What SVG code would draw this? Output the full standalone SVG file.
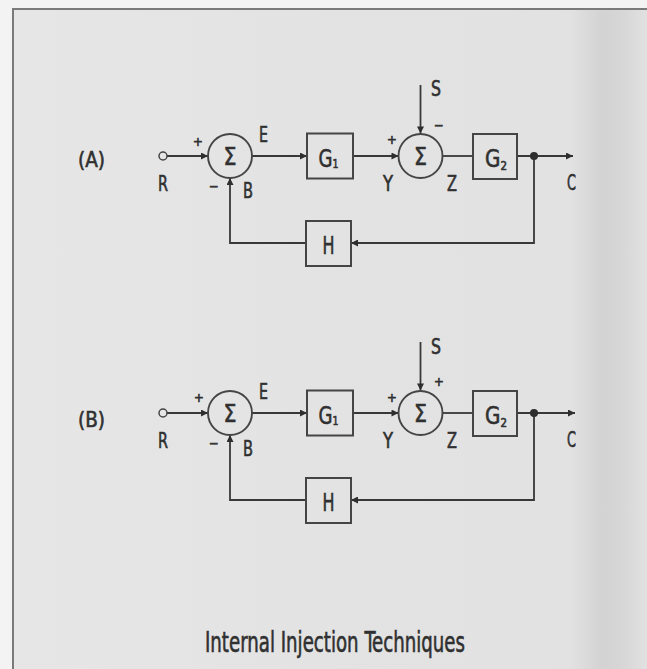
<svg xmlns="http://www.w3.org/2000/svg" width="647" height="669" viewBox="0 0 647 669">
  <defs>
    <linearGradient id="paper" x1="0" y1="0" x2="1" y2="0">
      <stop offset="0" stop-color="#e6e6e6"/>
      <stop offset="0.5" stop-color="#e3e3e3"/>
      <stop offset="0.87" stop-color="#e2e2e2"/>
      <stop offset="0.92" stop-color="#d3d3d3"/>
      <stop offset="0.95" stop-color="#d6d6d6"/>
      <stop offset="1" stop-color="#e4e4e4"/>
    </linearGradient>
    <marker id="arr" viewBox="0 0 10 10" refX="10" refY="5" markerWidth="9" markerHeight="7" markerUnits="userSpaceOnUse" orient="auto">
      <path d="M0,0 L10,5 L0,10 z" fill="#2e2e2e"/>
    </marker>
    <style>
      .ln { fill: none; stroke: #383838; stroke-width: 1.8; }
      .ar { marker-end: url(#arr); }
      .box { fill: none; stroke: #454545; stroke-width: 2; }
      .sum { fill: none; stroke: #454545; stroke-width: 1.9; }
      .t { font-family: "DejaVu Sans Condensed", "Liberation Sans", sans-serif; fill: #303030; stroke: #303030; stroke-width: 0.6; }
      .lbl { font-size: 22px; }
      .sg { font-size: 13px; }
      .sig { font-size: 25px; }
      .g { font-size: 25px; }
      .sub { font-size: 13px; }
    </style>
  </defs>

  <rect x="0" y="0" width="647" height="669" fill="#f3f3f3"/>
  <rect x="13" y="9" width="640" height="670" fill="url(#paper)"/>
  <path d="M13,669 L13,9 L647,9" fill="none" stroke="#7a7a7a" stroke-width="2"/>

  <!-- Diagram A -->
  <g id="diagramA">
    <text class="t" x="78" y="167" font-size="22" textLength="27" lengthAdjust="spacingAndGlyphs">(A)</text>
    <g id="connectorsA">
      <line class="ln ar" x1="167" y1="156" x2="208" y2="156"/>
      <line class="ln ar" x1="252" y1="156" x2="307" y2="156"/>
      <line class="ln ar" x1="353" y1="156" x2="398.5" y2="156"/>
      <line class="ln ar" x1="420.5" y1="85" x2="420.5" y2="133.5"/>
      <line class="ln" x1="442.5" y1="156" x2="473" y2="156"/>
      <line class="ln ar" x1="517" y1="156" x2="573" y2="156"/>
      <polyline class="ln ar" points="534,156 534,243 351,243"/>
      <polyline class="ln ar" points="306,243 230,243 230,178"/>
      <circle cx="534" cy="156" r="4" fill="#2e2e2e"/>
    </g>
    <g id="A-R">
      <circle cx="163" cy="156" r="4" fill="#e6e6e6" stroke="#444" stroke-width="1.5"/>
      <text class="t lbl" x="158" y="191" textLength="10" lengthAdjust="spacingAndGlyphs">R</text>
    </g>
    <g id="A-sum1">
      <circle class="sum" cx="230" cy="156" r="22"/>
      <text class="t sig" x="223.5" y="165" textLength="13" lengthAdjust="spacingAndGlyphs">Σ</text>
      <text class="t sg" x="198" y="146" text-anchor="middle">+</text>
      <text class="t sg" x="214" y="191" text-anchor="middle">−</text>
      <text class="t lbl" x="259" y="142" textLength="9" lengthAdjust="spacingAndGlyphs">E</text>
      <text class="t lbl" x="243" y="198" textLength="10" lengthAdjust="spacingAndGlyphs">B</text>
    </g>
    <g id="A-G1">
      <rect class="box" x="307" y="133.5" width="46" height="45"/>
      <text class="t g" x="318.5" y="166.5" textLength="20" lengthAdjust="spacingAndGlyphs">G<tspan class="sub" dy="1.5">1</tspan></text>
    </g>
    <g id="A-sum2">
      <circle class="sum" cx="420.5" cy="156" r="22"/>
      <text class="t sig" x="414" y="165" textLength="13" lengthAdjust="spacingAndGlyphs">Σ</text>
      <text class="t sg" x="392" y="144" text-anchor="middle">+</text>
      <text class="t sg" x="439" y="130" text-anchor="middle">−</text>
      <text class="t lbl" x="431" y="96" textLength="10" lengthAdjust="spacingAndGlyphs">S</text>
      <text class="t lbl" x="383" y="191" textLength="10" lengthAdjust="spacingAndGlyphs">Y</text>
      <text class="t lbl" x="447" y="191" textLength="10" lengthAdjust="spacingAndGlyphs">Z</text>
    </g>
    <g id="A-G2">
      <rect class="box" x="473" y="134" width="44" height="45"/>
      <text class="t g" x="485" y="167" textLength="22" lengthAdjust="spacingAndGlyphs">G<tspan class="sub" dy="3">2</tspan></text>
    </g>
    <g id="A-C">
      <text class="t lbl" x="567" y="190" textLength="9" lengthAdjust="spacingAndGlyphs">C</text>
    </g>
    <g id="A-H">
      <rect class="box" x="306" y="221" width="45" height="45"/>
      <text class="t g" x="322.5" y="253.5" textLength="12" lengthAdjust="spacingAndGlyphs">H</text>
    </g>
  </g>

  <!-- Diagram B -->
  <g id="diagramB">
    <text class="t" x="78" y="427" font-size="22" textLength="27" lengthAdjust="spacingAndGlyphs">(B)</text>
    <g transform="translate(0,257)">
      <g id="connectorsB">
        <line class="ln ar" x1="167" y1="156" x2="208" y2="156"/>
        <line class="ln ar" x1="252" y1="156" x2="307" y2="156"/>
        <line class="ln ar" x1="353" y1="156" x2="398.5" y2="156"/>
        <line class="ln ar" x1="420.5" y1="85" x2="420.5" y2="133.5"/>
        <line class="ln" x1="442.5" y1="156" x2="473" y2="156"/>
        <line class="ln ar" x1="517" y1="156" x2="575" y2="156"/>
        <polyline class="ln ar" points="534,156 534,243 351,243"/>
        <polyline class="ln ar" points="306,243 230,243 230,178"/>
        <circle cx="534" cy="156" r="4" fill="#2e2e2e"/>
      </g>
      <g id="B-R">
        <circle cx="163" cy="156" r="4" fill="#e6e6e6" stroke="#444" stroke-width="1.5"/>
        <text class="t lbl" x="158" y="191" textLength="10" lengthAdjust="spacingAndGlyphs">R</text>
      </g>
      <g id="B-sum1">
        <circle class="sum" cx="230" cy="156" r="22"/>
        <text class="t sig" x="223.5" y="165" textLength="13" lengthAdjust="spacingAndGlyphs">Σ</text>
        <text class="t sg" x="199" y="145" text-anchor="middle">+</text>
        <text class="t sg" x="214" y="191" text-anchor="middle">−</text>
        <text class="t lbl" x="259" y="142" textLength="9" lengthAdjust="spacingAndGlyphs">E</text>
        <text class="t lbl" x="243" y="199" textLength="10" lengthAdjust="spacingAndGlyphs">B</text>
      </g>
      <g id="B-G1">
        <rect class="box" x="307" y="133.5" width="46" height="45"/>
        <text class="t g" x="318.5" y="166.5" textLength="20" lengthAdjust="spacingAndGlyphs">G<tspan class="sub" dy="1.5">1</tspan></text>
      </g>
      <g id="B-sum2">
        <circle class="sum" cx="420.5" cy="156" r="22"/>
        <text class="t sg" x="392" y="145" text-anchor="middle">+</text>
        <text class="t sig" x="414" y="165" textLength="13" lengthAdjust="spacingAndGlyphs">Σ</text>
        <text class="t sg" x="439" y="129" text-anchor="middle">+</text>
        <text class="t lbl" x="431" y="97" textLength="10" lengthAdjust="spacingAndGlyphs">S</text>
        <text class="t lbl" x="383" y="191" textLength="10" lengthAdjust="spacingAndGlyphs">Y</text>
        <text class="t lbl" x="447" y="191" textLength="10" lengthAdjust="spacingAndGlyphs">Z</text>
      </g>
      <g id="B-G2">
        <rect class="box" x="473" y="134" width="44" height="45"/>
        <text class="t g" x="485" y="167" textLength="22" lengthAdjust="spacingAndGlyphs">G<tspan class="sub" dy="3">2</tspan></text>
      </g>
      <g id="B-C">
        <text class="t lbl" x="567" y="190" textLength="9" lengthAdjust="spacingAndGlyphs">C</text>
      </g>
      <g id="B-H">
        <rect class="box" x="306" y="221" width="45" height="45"/>
        <text class="t g" x="322.5" y="253.5" textLength="12" lengthAdjust="spacingAndGlyphs">H</text>
      </g>
    </g>
  </g>

  <g id="title">
    <text class="t" x="205" y="652" font-size="28" stroke-width="0.5" textLength="260" lengthAdjust="spacingAndGlyphs">Internal Injection Techniques</text>
  </g>
</svg>
